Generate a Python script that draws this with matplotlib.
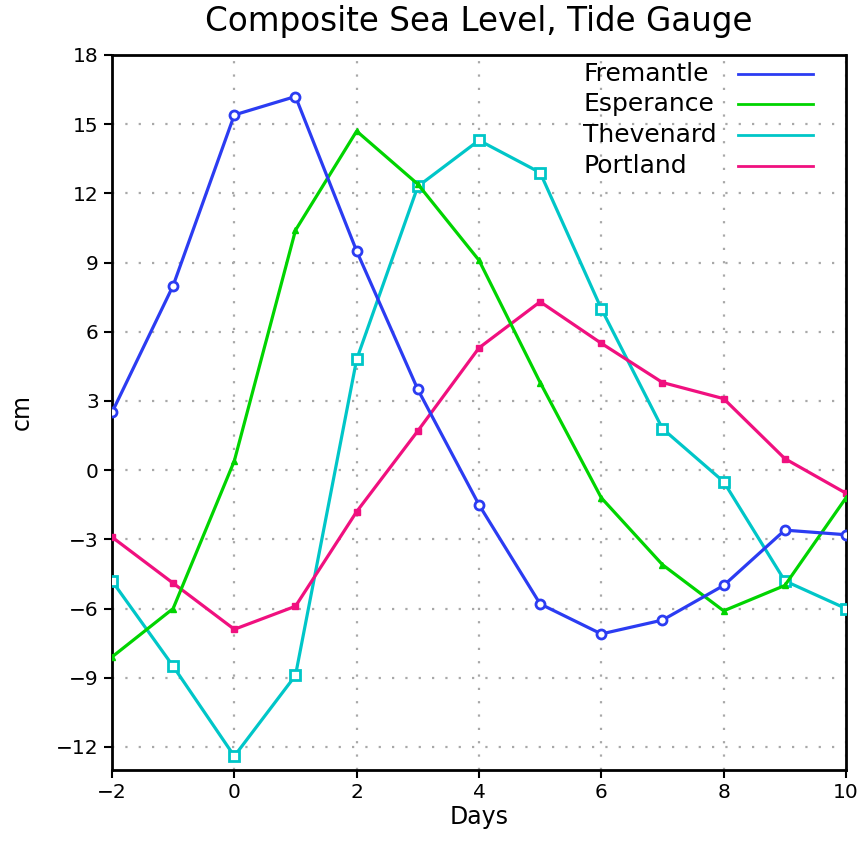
import matplotlib
matplotlib.use("Agg")
import matplotlib.pyplot as plt
from matplotlib.lines import Line2D

days = [-2, -1, 0, 1, 2, 3, 4, 5, 6, 7, 8, 9, 10]
fremantle = [2.5, 8.0, 15.4, 16.2, 9.5, 3.5, -1.5, -5.8, -7.1, -6.5, -5.0, -2.6, -2.8]
esperance = [-8.1, -6.0, 0.4, 10.4, 14.7, 12.4, 9.1, 3.8, -1.2, -4.1, -6.1, -5.0, -1.2]
thevenard = [-4.8, -8.5, -12.4, -8.9, 4.8, 12.3, 14.3, 12.9, 7.0, 1.8, -0.5, -4.8, -6.0]
portland = [-2.9, -4.9, -6.9, -5.9, -1.8, 1.7, 5.3, 7.3, 5.5, 3.8, 3.1, 0.5, -1.0]
names = ['Fremantle', 'Esperance', 'Thevenard', 'Portland']
colors = ['#2b3cf2', '#00d400', '#00c6c8', '#f0107f']
xticks = [-2, 0, 2, 4, 6, 8, 10]
yticks = [-12, -9, -6, -3, 0, 3, 6, 9, 12, 15, 18]

fig = plt.figure(figsize=(8.58, 8.42), dpi=100)
ax = fig.add_axes([0.1305, 0.0855, 0.8555, 0.8492])

lw = 2.3
ax.plot(days, fremantle, color=colors[0], lw=lw, marker='o', ms=6.5, mfc='white', mec=colors[0], mew=2, zorder=5)
ax.plot(days, esperance, color=colors[1], lw=lw, marker='^', ms=4, mfc=colors[1], mec=colors[1], zorder=4)
ax.plot(days, thevenard, color=colors[2], lw=lw, marker='s', ms=7, mfc='white', mec=colors[2], mew=2, zorder=3)
ax.plot(days, portland, color=colors[3], lw=lw, marker='s', ms=4.5, mfc=colors[3], mec=colors[3], zorder=3)

ax.set_xlim(-2, 10)
ax.set_ylim(-13, 18)
ax.set_xticks(xticks)
ax.set_yticks(yticks)
ax.set_xticklabels([str(t).replace('-', '\u2212') for t in xticks])
ax.set_yticklabels([str(t).replace('-', '\u2212') for t in yticks])
ax.tick_params(labelsize=14.5, direction='out', length=6, width=1.5)
ax.grid(True, color='#a8a8a8', linestyle=(0, (1, 5)), lw=1.6)

for side in ['top', 'left']:
    ax.spines[side].set_linestyle((0, (4, 1)))
    ax.spines[side].set_linewidth(2)
for side in ['bottom', 'right']:
    ax.spines[side].set_linewidth(2)

ax.set_xlabel('Days', fontsize=17, labelpad=2)
ax.set_ylabel('cm', fontsize=17, labelpad=16)
ax.set_title('Composite Sea Level, Tide Gauge', fontsize=23.5, pad=17)

# legend (text on the left, line on the right)
leg_y = [0.973, 0.931, 0.888, 0.845]
for name, c, yy in zip(names, colors, leg_y):
    ax.text(0.642, yy, name, transform=ax.transAxes, fontsize=18,
            ha='left', va='center', zorder=6)
    ax.add_line(Line2D([0.853, 0.955], [yy, yy], transform=ax.transAxes,
                       color=c, lw=2, zorder=6))

fig.savefig('out.png', dpi=100)
